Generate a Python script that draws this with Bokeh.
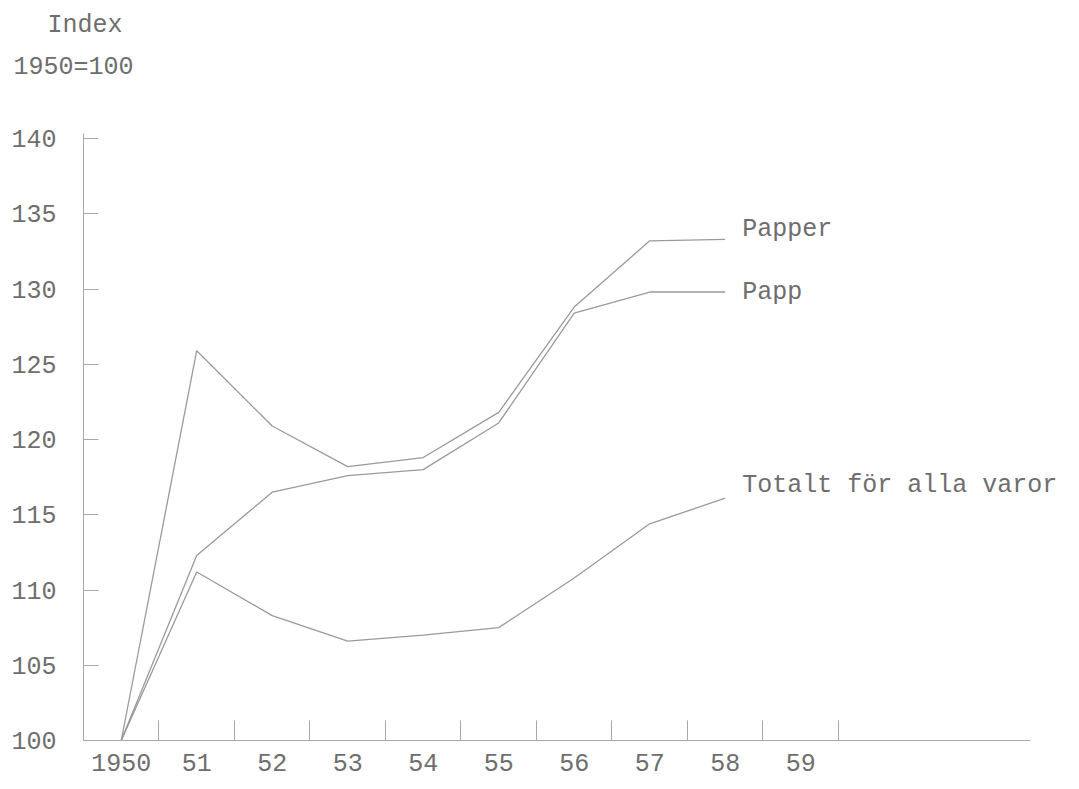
from bokeh.plotting import figure
from bokeh.models import FixedTicker, Label
from bokeh.embed import file_html
from bokeh.resources import INLINE

# ---- data ----
years = [1950, 1951, 1952, 1953, 1954, 1955, 1956, 1957, 1958]
papper = [100, 125.9, 120.9, 118.2, 118.8, 121.8, 128.8, 133.2, 133.3]
papp = [100, 112.3, 116.5, 117.6, 118.0, 121.1, 128.4, 129.8, 129.8]
totalt = [100, 111.2, 108.3, 106.6, 107.0, 107.5, 110.8, 114.4, 116.1]

series_names = ["Papper", "Papp", "Totalt för alla varor"]
x_label_years = [1950, 1951, 1952, 1953, 1954, 1955, 1956, 1957, 1958, 1959]
x_label_texts = ["1950", "51", "52", "53", "54", "55", "56", "57", "58", "59"]
x_minor_ticks = [1950.5, 1951.5, 1952.5, 1953.5, 1954.5, 1955.5, 1956.5, 1957.5, 1958.5, 1959.5]
y_ticks = [100, 105, 110, 115, 120, 125, 130, 135, 140]
y_title_1 = "Index"
y_title_2 = "1950=100"

# axis extents (data units)
X_AXIS_START, X_AXIS_END = 1949.5, 1962.04
Y_AXIS_START, Y_AXIS_END = 100, 140.3

FONT = "Liberation Mono"
TEXT_COLOR = "#6e6e6e"
LINE_COLOR = "#8f8f8f"
AXIS_COLOR = "#a8a8a8"

p = figure(width=1075, height=785, output_backend="svg", toolbar_location=None,
           x_range=(1948.401, 1962.64), y_range=(97.01, 149.17),
           min_border=0)
p.outline_line_color = None
p.xgrid.visible = False
p.ygrid.visible = False
p.background_fill_color = "white"
p.border_fill_color = "white"

# x axis, drawn at y = 100 inside the frame
xa = p.xaxis[0]
xa.fixed_location = Y_AXIS_START
xa.bounds = (X_AXIS_START, X_AXIS_END)
xa.ticker = FixedTicker(ticks=x_label_years, minor_ticks=x_minor_ticks)
xa.major_label_overrides = {y: t for y, t in zip(x_label_years, x_label_texts)}
xa.major_tick_in = 0
xa.major_tick_out = 0
xa.minor_tick_in = 20
xa.minor_tick_out = 0
xa.minor_tick_line_color = AXIS_COLOR
xa.axis_line_color = AXIS_COLOR
xa.major_label_standoff = 13
xa.major_label_text_font = FONT
xa.major_label_text_font_size = "25px"
xa.major_label_text_color = TEXT_COLOR

# y axis, drawn at x = 1949.5 inside the frame
ya = p.yaxis[0]
ya.fixed_location = X_AXIS_START
ya.bounds = (Y_AXIS_START, Y_AXIS_END)
ya.ticker = FixedTicker(ticks=y_ticks, minor_ticks=[])
ya.major_tick_in = 15
ya.major_tick_out = 0
ya.major_tick_line_color = AXIS_COLOR
ya.axis_line_color = AXIS_COLOR
ya.minor_tick_line_color = None
ya.major_label_standoff = 27
ya.major_label_text_font = FONT
ya.major_label_text_font_size = "25px"
ya.major_label_text_color = TEXT_COLOR

# lines
for vals in (papper, papp, totalt):
    p.line(years, vals, line_color=LINE_COLOR, line_width=1.3, line_alpha=0.9)

# series labels at the line ends
end_offsets = [10, 0, 13]
for name, vals, dy in zip(series_names, (papper, papp, totalt), end_offsets):
    p.add_layout(Label(x=years[-1], y=vals[-1], text=name, x_offset=17, y_offset=dy,
                       text_baseline="middle", text_align="left",
                       text_font=FONT, text_font_size="25px", text_color=TEXT_COLOR))

# y title (two lines above the axis)
p.add_layout(Label(x=X_AXIS_START, y=y_ticks[-1], text=y_title_1, x_offset=-36, y_offset=113,
                   text_baseline="middle", text_align="left",
                   text_font=FONT, text_font_size="25px", text_color=TEXT_COLOR))
p.add_layout(Label(x=X_AXIS_START, y=y_ticks[-1], text=y_title_2, x_offset=-70, y_offset=71,
                   text_baseline="middle", text_align="left",
                   text_font=FONT, text_font_size="25px", text_color=TEXT_COLOR))

open("out.html", "w").write(file_html(p, INLINE))
